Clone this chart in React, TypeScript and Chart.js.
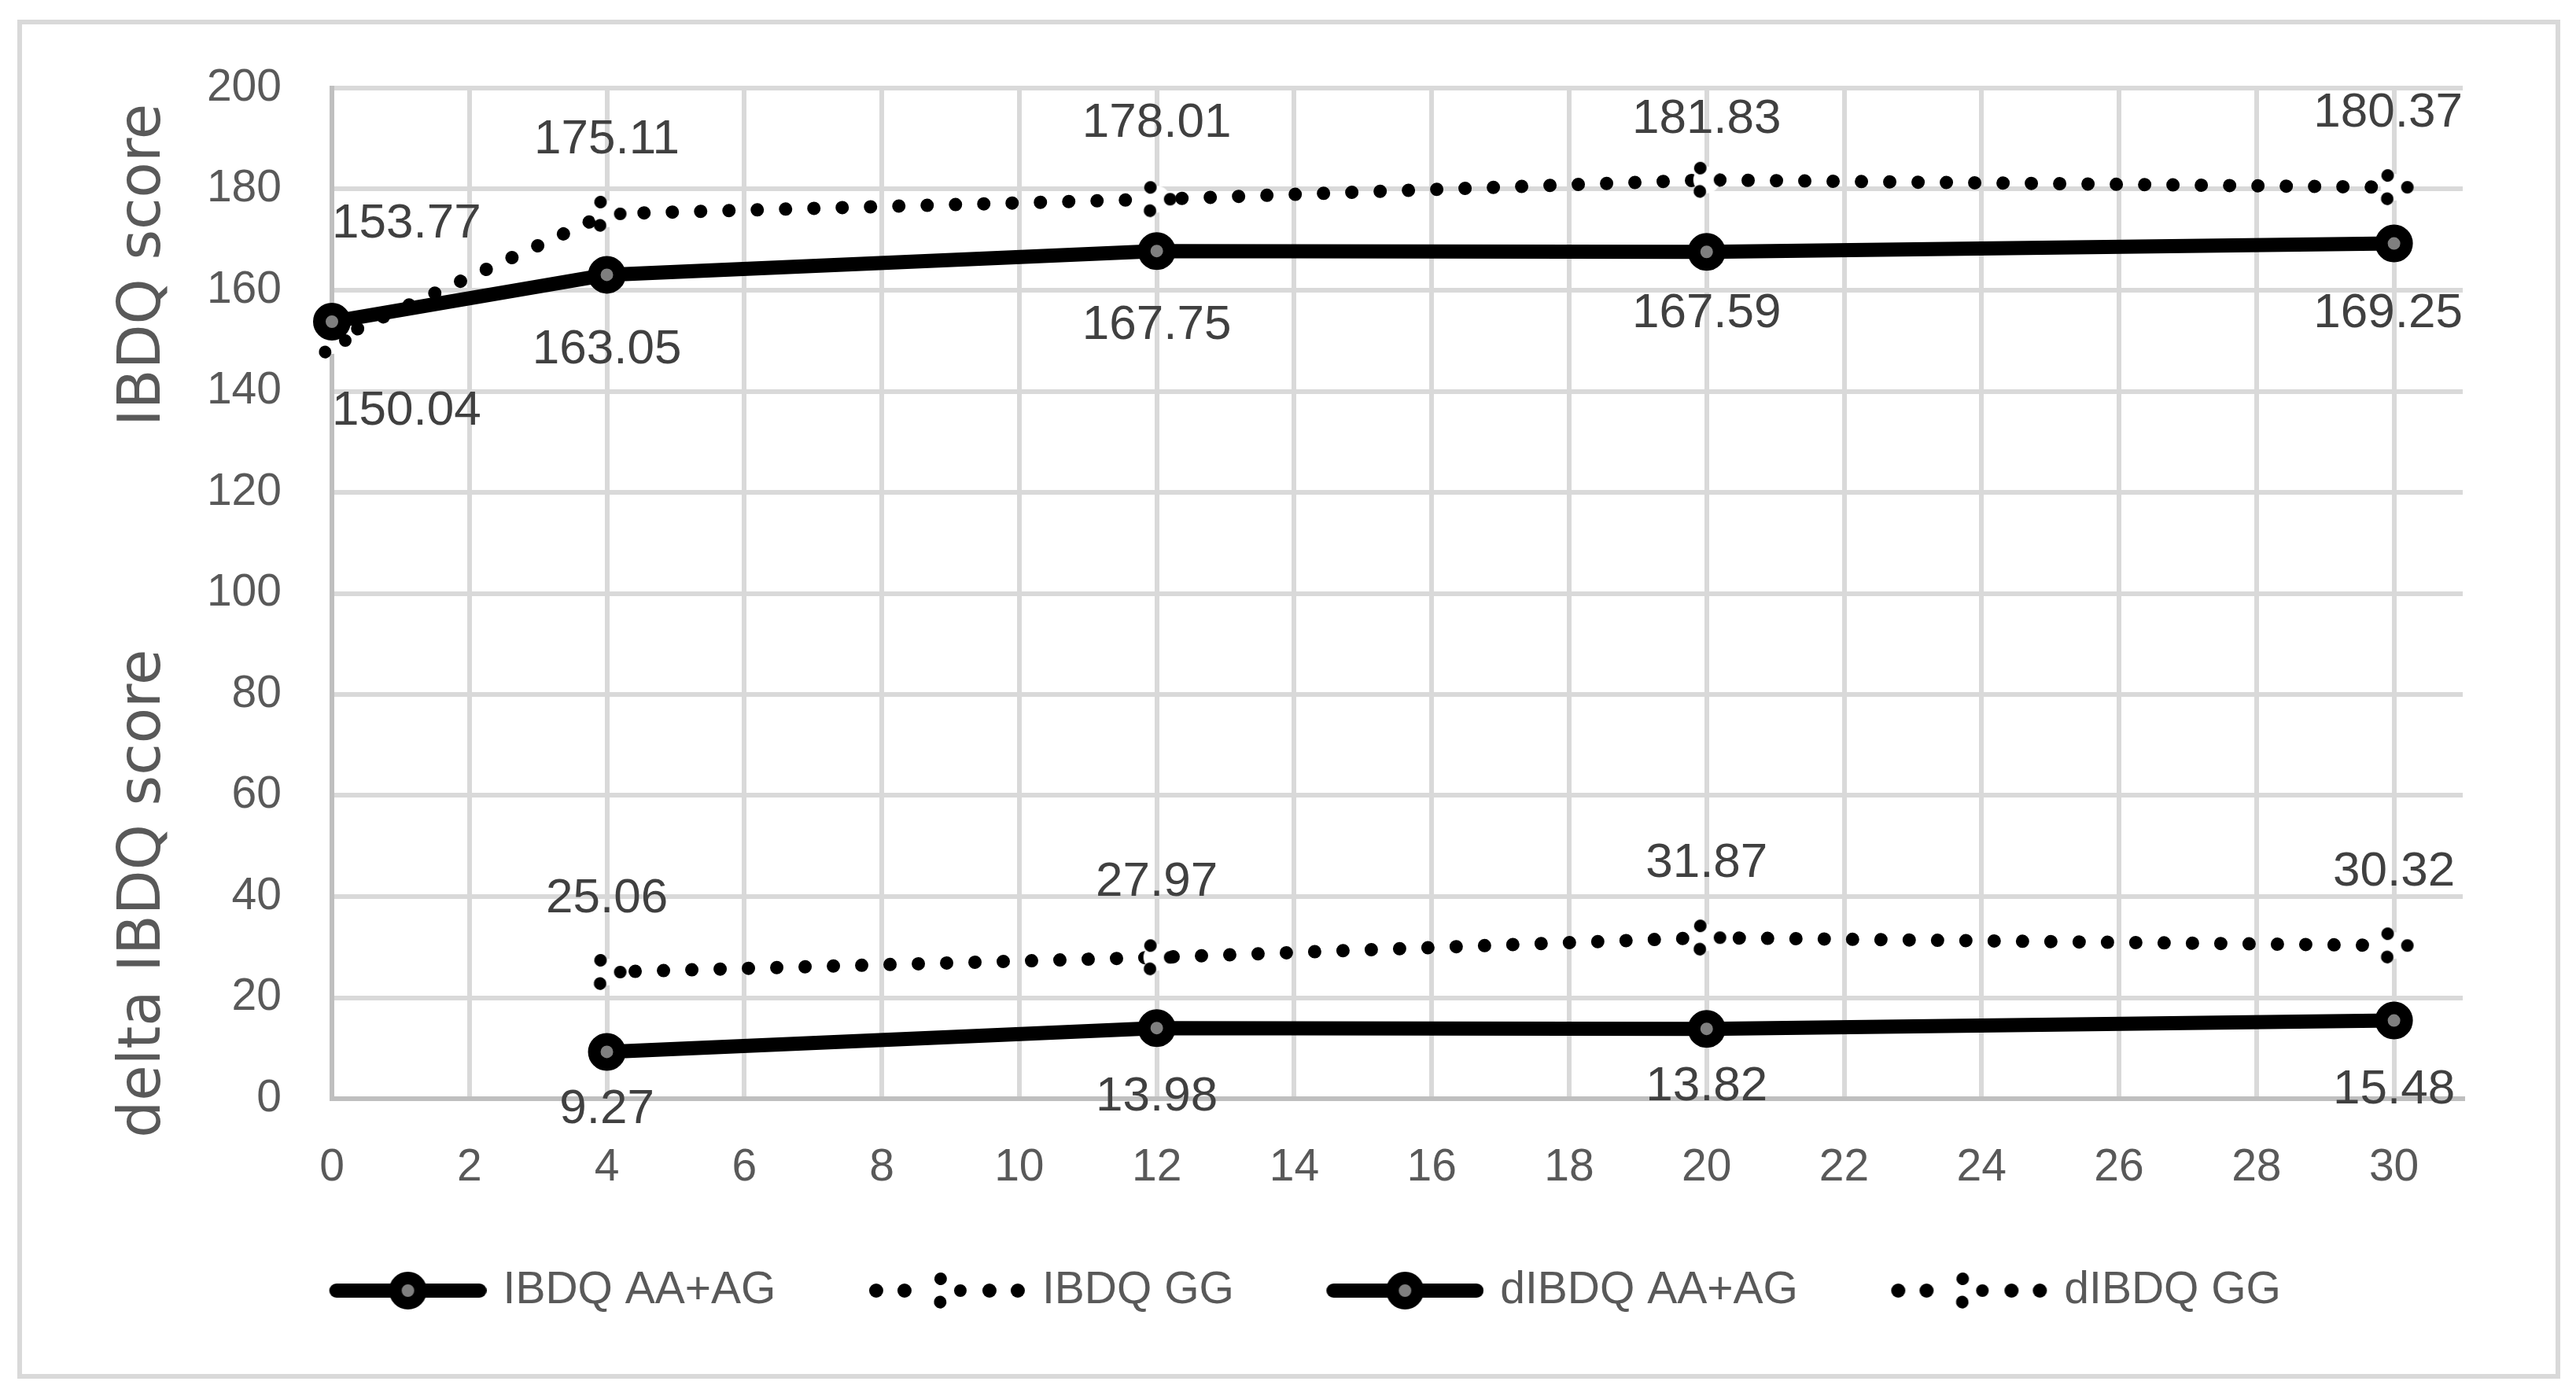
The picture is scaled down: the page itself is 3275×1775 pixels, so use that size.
import { useEffect, useRef } from "react"
import { Chart, registerables } from "chart.js"

Chart.register(...registerables)

// weeks after start
const weeks = [0, 4, 12, 20, 30]
const deltaWeeks = [4, 12, 20, 30]

const ibdqAAAG = [153.77, 163.05, 167.75, 167.59, 169.25]
const ibdqGG = [150.04, 175.11, 178.01, 181.83, 180.37]
const dIbdqAAAG = [9.27, 13.98, 13.82, 15.48]
const dIbdqGG = [25.06, 27.97, 31.87, 30.32]

const seriesNames = ["IBDQ AA+AG", "IBDQ GG", "dIBDQ AA+AG", "dIBDQ GG"]
const yTitles = ["IBDQ score", "delta IBDQ score"]

// axis ranges
const xMin = 0
const xMax = 31
const xStep = 2
const yMin = 0
const yMax = 200
const yStep = 20

// where the value labels sit relative to their point (px, negative = above)
const labelOffsets = [
  [-124, 96, 95, 79, 89],
  [90, -94, -96, -77, -94],
  [73, 88, 74, 88],
  [-93, -95, -94, -93],
]
// vertical centre of each y title, as a share of the plot height
const yTitleCenters = [0.175, 0.797]

const TEXT = "#595959"
const LABEL = "#404040"
const GRID = "#d9d9d9"
const AXIS = "#bfbfbf"
const SANS = '"Liberation Sans", Arial, sans-serif'

function drawRing(ctx: CanvasRenderingContext2D, x: number, y: number) {
  ctx.beginPath()
  ctx.arc(x, y, 16, 0, Math.PI * 2)
  ctx.fillStyle = "#7f7f7f"
  ctx.fill()
  ctx.lineWidth = 16
  ctx.strokeStyle = "#000000"
  ctx.stroke()
}

// circle marker with a dotted outline
function makeDottedMarker() {
  const c = document.createElement("canvas")
  c.width = 64
  c.height = 64
  const ctx = c.getContext("2d")!
  const r = 17
  ctx.beginPath()
  ctx.arc(32, 32, r, 0, Math.PI * 2)
  ctx.fillStyle = "#ffffff"
  ctx.fill()
  const gap = (2 * Math.PI * r) / 3
  ctx.setLineDash([0.01, gap - 0.01])
  ctx.lineCap = "round"
  ctx.lineWidth = 16
  ctx.strokeStyle = "#000000"
  ctx.beginPath()
  ctx.arc(32, 32, r, 0, Math.PI * 2)
  ctx.stroke()
  return c
}

function makeLegendIcon(dotted: boolean, marker: HTMLCanvasElement) {
  const c = document.createElement("canvas")
  c.width = 305
  c.height = 64
  const ctx = c.getContext("2d")!
  const x0 = 105
  const x1 = 305
  const cy = 32
  const cx = (x0 + x1) / 2
  if (dotted) {
    ctx.fillStyle = "#000000"
    for (const dx of [-90, -54, 54, 90]) {
      ctx.beginPath()
      ctx.arc(cx + dx, cy, 9, 0, Math.PI * 2)
      ctx.fill()
    }
    ctx.drawImage(marker, cx - 32, cy - 32)
  } else {
    ctx.lineWidth = 18
    ctx.lineCap = "round"
    ctx.strokeStyle = "#000000"
    ctx.beginPath()
    ctx.moveTo(x0 + 9, cy)
    ctx.lineTo(x1 - 9, cy)
    ctx.stroke()
    drawRing(ctx, cx, cy)
  }
  return c
}

const valueLabels = {
  id: "valueLabels",
  afterDatasetsDraw(chart: any) {
    const { ctx, chartArea } = chart
    ctx.save()
    ctx.font = `62px ${SANS}`
    ctx.fillStyle = LABEL
    ctx.textAlign = "center"
    ctx.textBaseline = "middle"
    chart.data.datasets.forEach((ds: any, i: number) => {
      const meta = chart.getDatasetMeta(i)
      meta.data.forEach((pt: any, j: number) => {
        const text = ds.data[j].y.toFixed(2)
        const w = ctx.measureText(text).width
        const x = Math.max(chartArea.left + w / 2, Math.min(chartArea.right - w / 2, pt.x))
        ctx.fillText(text, x, pt.y + labelOffsets[i][j])
      })
    })
    ctx.restore()
  },
}

const sideTitles = {
  id: "sideTitles",
  afterDraw(chart: any) {
    const { ctx, chartArea } = chart
    ctx.save()
    ctx.font = '74px "DejaVu Sans", sans-serif'
    ctx.fillStyle = TEXT
    ctx.textAlign = "center"
    ctx.textBaseline = "middle"
    yTitles.forEach((t, i) => {
      const y = chartArea.top + yTitleCenters[i] * (chartArea.bottom - chartArea.top)
      ctx.save()
      ctx.translate(chartArea.left - 238, y)
      ctx.rotate(-Math.PI / 2)
      ctx.fillText(t, 0, 0)
      ctx.restore()
    })
    ctx.restore()
  },
}

export default function App() {
  const chartRef = useRef<HTMLCanvasElement>(null)
  const chartInstance = useRef<Chart | null>(null)

  useEffect(() => {
    if (!chartRef.current) return
    const ctx = chartRef.current.getContext("2d")
    if (!ctx) return
    if (chartInstance.current) chartInstance.current.destroy()

    const marker = makeDottedMarker()
    const icons = [
      makeLegendIcon(false, marker),
      makeLegendIcon(true, marker),
      makeLegendIcon(false, marker),
      makeLegendIcon(true, marker),
    ]

    const solid = {
      borderColor: "#000000",
      borderWidth: 18,
      borderJoinStyle: "round" as const,
      pointStyle: "circle" as const,
      pointRadius: 16,
      pointBorderWidth: 16,
      pointBackgroundColor: "#7f7f7f",
      pointBorderColor: "#000000",
      tension: 0,
      clip: false as const,
    }
    const dotted = {
      borderColor: "#000000",
      borderWidth: 17,
      borderDash: [0.01, 36],
      borderCapStyle: "round" as const,
      pointStyle: marker,
      pointRadius: 25,
      tension: 0,
      clip: false as const,
    }

    chartInstance.current = new Chart(ctx, {
      type: "line",
      data: {
        datasets: [
          { label: seriesNames[0], data: weeks.map((w, i) => ({ x: w, y: ibdqAAAG[i] })), ...solid },
          { label: seriesNames[1], data: weeks.map((w, i) => ({ x: w, y: ibdqGG[i] })), ...dotted },
          { label: seriesNames[2], data: deltaWeeks.map((w, i) => ({ x: w, y: dIbdqAAAG[i] })), ...solid },
          { label: seriesNames[3], data: deltaWeeks.map((w, i) => ({ x: w, y: dIbdqGG[i] })), ...dotted },
        ],
      },
      options: {
        responsive: true,
        maintainAspectRatio: false,
        animation: false,
        events: [],
        layout: { padding: { top: 112, left: 0, right: 54, bottom: 95.5 } },
        scales: {
          x: {
            type: "linear",
            min: xMin,
            max: xMax,
            ticks: {
              stepSize: xStep,
              includeBounds: false,
              padding: 54,
              color: TEXT,
              maxRotation: 0,
              font: { size: 57, family: SANS },
            },
            grid: { color: GRID, lineWidth: 6, drawTicks: false },
            border: { color: AXIS, width: 6 },
            afterFit: (s: any) => {
              s.height = 195.5
            },
          },
          y: {
            min: yMin,
            max: yMax,
            ticks: {
              stepSize: yStep,
              padding: 64,
              color: TEXT,
              font: { size: 57, family: SANS },
            },
            grid: { color: GRID, lineWidth: 6, drawTicks: false },
            border: { color: AXIS, width: 6 },
            afterFit: (s: any) => {
              s.width = 422
            },
          },
          spacer: {
            type: "linear",
            position: "right",
            grid: { display: false },
            border: { display: false },
            ticks: { display: false },
            afterFit: (s: any) => {
              s.width = 90
            },
          },
        },
        plugins: {
          tooltip: { enabled: false },
          legend: {
            position: "bottom",
            labels: {
              usePointStyle: true,
              pointStyleWidth: 290,
              padding: 20,
              color: TEXT,
              font: { size: 57, family: SANS },
              generateLabels: (chart: any) =>
                chart.data.datasets.map((ds: any, i: number) => ({
                  text: ds.label,
                  pointStyle: icons[i],
                  fillStyle: "transparent",
                  strokeStyle: "transparent",
                  lineWidth: 0,
                  hidden: false,
                  datasetIndex: i,
                  fontColor: TEXT,
                })),
            },
          },
        },
      },
      plugins: [valueLabels, sideTitles],
    } as any)

    return () => {
      if (chartInstance.current) {
        chartInstance.current.destroy()
        chartInstance.current = null
      }
    }
  }, [])

  return (
    <div style={{ position: "relative", width: 3275, height: 1775, background: "#ffffff" }}>
      <style>{"html,body{margin:0;padding:0;overflow:hidden;background:#fff}"}</style>
      <div style={{ position: "absolute", inset: 0 }}>
        <canvas ref={chartRef}></canvas>
      </div>
      <div
        style={{
          position: "absolute",
          left: 22,
          top: 25,
          width: 3233,
          height: 1728,
          border: `6px solid ${GRID}`,
          boxSizing: "border-box",
          pointerEvents: "none",
        }}
      />
    </div>
  )
}
